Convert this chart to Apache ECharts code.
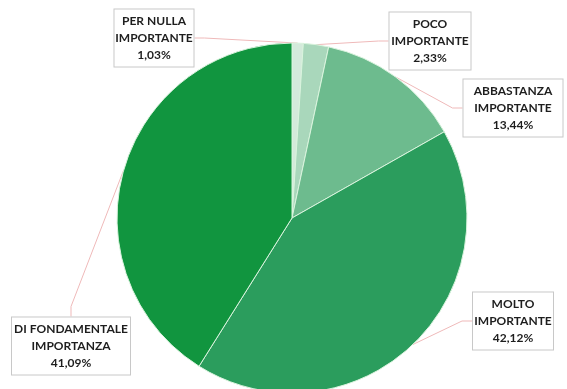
<!DOCTYPE html>
<html><head><meta charset="utf-8">
<script src="https://cdn.jsdelivr.net/npm/echarts@6/dist/echarts.min.js"></script>
<style>html,body{margin:0;padding:0;background:#fff}#c{width:567px;height:389px}</style>
</head><body><div id="c"></div>
<script>
const categories = ['PER NULLA\nIMPORTANTE', 'POCO\nIMPORTANTE', 'ABBASTANZA\nIMPORTANTE', 'MOLTO\nIMPORTANTE', 'DI FONDAMENTALE\nIMPORTANZA'];
const values = [1.03, 2.33, 13.44, 42.12, 41.09];
const colors = ['#d4eadb', '#a9d7bb', '#6dbb8e', '#2b9d5d', '#11953f'];
const labelPos = [[154, 38], [430, 41], [513, 108], [513, 321], [71, 346]];
const labelWidths = [73, 75, 93, 74, 112];

const chart = echarts.init(document.getElementById('c'));
chart.setOption({
  animation: false,
  series: [{
    type: 'pie',
    center: [292, 218],
    radius: 175,
    startAngle: 90,
    clockwise: true,
    data: categories.map((n, i) => ({
      name: n, value: values[i],
      itemStyle: { color: colors[i] },
      label: { width: labelWidths[i] }
    })),
    itemStyle: { borderColor: '#d9f3dd', borderWidth: 1 },
    label: {
      show: true,
      position: 'outside',
      formatter: p => p.name + '\n' + p.value.toFixed(2).replace('.', ',') + '%',
      fontFamily: 'Lato',
      fontWeight: 'bold',
      fontSize: 12,
      lineHeight: 17,
      color: '#1e1e1e',
      align: 'center',
      overflow: 'none',
      backgroundColor: '#fff',
      borderColor: '#c8c8c8',
      borderWidth: 1,
      padding: [3, 3, 3, 3]
    },
    labelLine: { show: true, length: 10, length2: 10, lineStyle: { color: '#efb9b9', width: 1 } },
    labelLayout: function (params) {
      const p = labelPos[params.dataIndex];
      return { x: p[0], y: p[1], align: 'center', verticalAlign: 'middle' };
    }
  }]
});
</script></body></html>
